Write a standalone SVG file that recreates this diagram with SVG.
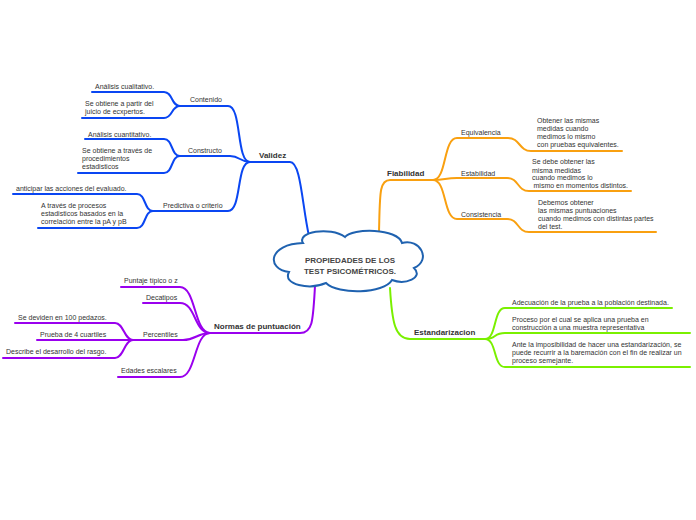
<svg xmlns="http://www.w3.org/2000/svg" width="696" height="520" viewBox="0 0 696 520">
<style>
.c{fill:none;stroke-width:2;stroke-linecap:round;stroke-linejoin:round}
.b{stroke:#0a46f2}.o{stroke:#f9a010}.g{stroke:#7af000}.p{stroke:#9a00ee}
text{font-family:"Liberation Sans",Arial,sans-serif;font-size:7px;fill:#333}
.h{font-weight:bold;font-size:8px}
.t{font-weight:bold;font-size:8px;fill:#444;text-anchor:middle}
</style>
<rect width="696" height="520" fill="#fff"/>
<g id="connectors">
<path class="c b" d="M250,162 H290 C301,162 302,205 309,236"/>
<path class="c b" d="M250,162 C236,162 242,106 228,106 H180"/>
<path class="c b" d="M180,106 C171,106 173,92 164,92 H92"/>
<path class="c b" d="M180,106 C171,106 173,118 164,118 H82"/>
<path class="c b" d="M250,162 C240,162 240,156 230,156 H180"/>
<path class="c b" d="M180,156 C171,156 173,139 164,139 H85"/>
<path class="c b" d="M180,156 C171,156 173,173 164,173 H78"/>
<path class="c b" d="M250,162 C236,162 242,211 228,211 H153"/>
<path class="c b" d="M153,211 C144,211 146,194 137,194 H13"/>
<path class="c b" d="M153,211 C144,211 146,228 137,228 H38"/>
<path class="c o" d="M379,232 C380,195 379,180 390,180 H433"/>
<path class="c o" d="M433,180 C447,180 443,138 457,138 H508 C520,138 519,151 531,151 H622"/>
<path class="c o" d="M433,180 C445,180 445,178 457,178 H507 C519,178 517,191 529,191 H631"/>
<path class="c o" d="M433,180 C447,180 443,219 457,219 H507 C519,219 517,232 529,232 H656"/>
<path class="c g" d="M390,288 C392,322 395,339 410,339 H485"/>
<path class="c g" d="M485,339 C497,339 493,308 505,308 H672"/>
<path class="c g" d="M485,339 C497,339 493,333 505,333 H690"/>
<path class="c g" d="M485,339 C497,339 493,367 505,367 H690"/>
<path class="c p" d="M315,286 C313,320 313,333 300,333 H210"/>
<path class="c p" d="M210,333 C194,333 196,287 180,287 H121"/>
<path class="c p" d="M210,333 C194,333 196,303 180,303 H143"/>
<path class="c p" d="M210,333 C197,333 196,340 183,340 H133"/>
<path class="c p" d="M210,333 C194,333 196,377 180,377 H118"/>
<path class="c p" d="M133,340 C124,340 124,323 115,323 H15"/>
<path class="c p" d="M133,340 H37"/>
<path class="c p" d="M133,340 C124,340 124,358 115,358 H3"/>
</g>
<g id="root">
<path d="M303,243 C296,232 330,226 345,237 C352,228 398,228 402,243 C420,238 432,260 414,268 C424,278 405,285 392,280 C384,294 338,295 326,283 C310,290 282,285 289,272 C266,269 268,244 303,243 Z" fill="#fff" stroke="#1f62b0" stroke-width="2"/>
<text class="t" x="350" y="263">PROPIEDADES DE LOS</text>
<text class="t" x="350" y="274">TEST PSICOMÉTRICOS.</text>
</g>
<g id="validez"><text class="h" x="259" y="158">Validez</text></g>
<g id="contenido"><text x="190" y="101.5">Contenido</text></g>
<g id="cualitativo"><text x="95" y="89">Análisis cualitativo.</text></g>
<g id="expertos"><text x="85" y="106">Se obtiene a partir del</text><text x="85" y="113.5">juicio de ecxpertos.</text></g>
<g id="constructo"><text x="188" y="153">Constructo</text></g>
<g id="cuantitativo"><text x="88" y="136.5">Análisis cuantitativo.</text></g>
<g id="procedimientos"><text x="82" y="153">Se obtiene a través de</text><text x="82" y="161">procedimientos</text><text x="82" y="168.5">estadisticos</text></g>
<g id="predictiva"><text x="163" y="208">Predictiva o criterio</text></g>
<g id="anticipar"><text x="16" y="191">anticipar las acciones del evaluado.</text></g>
<g id="correlacion"><text x="41" y="207.5">A través de procesos</text><text x="41" y="216">estadisticos basados en la</text><text x="41" y="223.5">correlación entre la pA y pB</text></g>
<g id="fiabilidad"><text class="h" x="387" y="176">Fiabilidad</text></g>
<g id="equivalencia"><text x="461" y="135">Equivalencia</text></g>
<g id="equiv-txt"><text x="537" y="123">Obtener las mismas</text><text x="537" y="131">medidas cuando</text><text x="537" y="138.5">medimos lo mismo</text><text x="537" y="146.5">con pruebas equivalentes.</text></g>
<g id="estabilidad"><text x="461" y="176">Estabilidad</text></g>
<g id="estab-txt"><text x="532" y="164">Se debe obtener las</text><text x="532" y="172.5">misma medidas</text><text x="532" y="180">cuando medimos lo</text><text x="533.5" y="188">mismo en momentos distintos.</text></g>
<g id="consistencia"><text x="461" y="217">Consistencia</text></g>
<g id="consist-txt"><text x="538" y="205">Debemos obtener</text><text x="538" y="212.5">las mismas puntuaciones</text><text x="538" y="221">cuando medimos con distintas partes</text><text x="538" y="229">del test.</text></g>
<g id="estandarizacion"><text class="h" x="414" y="334.5">Estandarizacion</text></g>
<g id="adecuacion"><text x="512" y="305">Adecuación de la prueba a la población destinada.</text></g>
<g id="proceso"><text x="512" y="322">Proceso por el cual se aplica una prueba en</text><text x="512" y="330">construcción a una muestra representativa</text></g>
<g id="baremacion"><text x="512" y="346.5">Ante la imposibilidad de hacer una estandarización, se</text><text x="512" y="354.5">puede recurrir a la baremación con el fin de realizar un</text><text x="512" y="362.5">proceso semejante.</text></g>
<g id="normas"><text class="h" x="214" y="328.5">Normas de puntuación</text></g>
<g id="puntaje"><text x="124" y="283">Puntaje típico o z</text></g>
<g id="decatipos"><text x="146" y="300">Decatipos</text></g>
<g id="percentiles"><text x="143" y="337">Percentiles</text></g>
<g id="edades"><text x="121" y="372.5">Edades escalares</text></g>
<g id="pedazos"><text x="18" y="320">Se deviden en 100 pedazos.</text></g>
<g id="cuartiles"><text x="40" y="337">Prueba de 4 cuartiles</text></g>
<g id="rasgo"><text x="6" y="354">Describe el desarrollo del rasgo.</text></g>
</svg>
